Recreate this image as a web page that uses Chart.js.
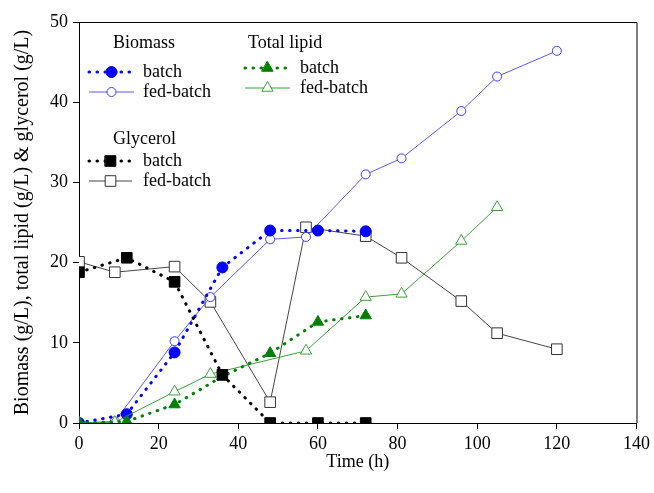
<!DOCTYPE html>
<html>
<head>
<meta charset="utf-8">
<script src="https://cdn.jsdelivr.net/npm/chart.js@4"></script>
<style>
  html, body { margin: 0; padding: 0; background: #fff; }
  #wrap { width: 654px; height: 493px; }
</style>
</head>
<body>
<div id="wrap"><canvas id="chart" width="654" height="493"></canvas></div>
<script>
// sampling times (h)
const batchTime = [0, 12, 24, 36, 48, 60, 72];
const fedTime = [0, 9, 24, 33, 48, 57, 72, 81, 96, 105, 120];
const fedLipidTime = [0, 9, 24, 33, 57, 72, 81, 96, 105];

// values (g/L)
const biomassBatch = [0, 1.1, 8.8, 19.4, 24.0, 24.0, 23.9];
const biomassFed = [0, 0.2, 10.2, 15.7, 22.9, 23.2, 31.0, 33.0, 38.9, 43.2, 46.4];
const lipidBatch = [0, 0.2, 2.3, 5.8, 8.7, 12.6, 13.4];
const lipidFed = [0, 0.1, 3.9, 6.1, 9.0, 15.7, 16.1, 22.7, 26.9];
const glycerolBatch = [18.8, 20.6, 17.6, 6.0, 0, 0, 0];
const glycerolFed = [20.1, 18.8, 19.5, 15.1, 2.6, 24.4, 23.3, 20.6, 15.2, 11.2, 9.2];

const xTicks = [0, 20, 40, 60, 80, 100, 120, 140];
const yTicks = [0, 10, 20, 30, 40, 50];

const FONT = "'Liberation Serif', 'Times New Roman', serif";

function pts(xs, ys) {
  return xs.map((x, i) => ({ x: x, y: ys[i] }));
}

const dotted = [0.5, 7.5];

const datasets = [
  {
    label: "Glycerol batch", data: pts(batchTime, glycerolBatch),
    borderColor: "#000", backgroundColor: "#000", borderWidth: 3,
    borderDash: dotted, borderCapStyle: "round",
    pointStyle: "rect", pointRadius: 7.5, pointBorderWidth: 1,
    pointBackgroundColor: "#000", pointBorderColor: "#000"
  },
  {
    label: "Total lipid batch", data: pts(batchTime, lipidBatch),
    borderColor: "#008000", backgroundColor: "#008000", borderWidth: 3,
    borderDash: dotted, borderCapStyle: "round",
    pointStyle: "triangle", pointRadius: 6.5, pointBorderWidth: 1,
    pointBackgroundColor: "#008000", pointBorderColor: "#008000"
  },
  {
    label: "Total lipid fed-batch", data: pts(fedLipidTime, lipidFed),
    borderColor: "#3ca03c", backgroundColor: "#fff", borderWidth: 1,
    pointStyle: "triangle", pointRadius: 6.5, pointBorderWidth: 1,
    pointBackgroundColor: "#fff", pointBorderColor: "#3ca03c"
  },
  {
    label: "Biomass batch", data: pts(batchTime, biomassBatch),
    borderColor: "#0000ff", backgroundColor: "#0000ff", borderWidth: 3,
    borderDash: dotted, borderCapStyle: "round",
    pointStyle: "circle", pointRadius: 5.5, pointBorderWidth: 1,
    pointBackgroundColor: "#0000ff", pointBorderColor: "#0000ff"
  },
  {
    label: "Biomass fed-batch", data: pts(fedTime, biomassFed),
    borderColor: "#5a5aff", backgroundColor: "#fff", borderWidth: 1,
    pointStyle: "circle", pointRadius: 4.5, pointBorderWidth: 1,
    pointBackgroundColor: "#fff", pointBorderColor: "#3c3cff"
  },
  {
    label: "Glycerol fed-batch", data: pts(fedTime, glycerolFed),
    borderColor: "#444", backgroundColor: "#fff", borderWidth: 1,
    pointStyle: "rect", pointRadius: 7.5, pointBorderWidth: 1,
    pointBackgroundColor: "#fff", pointBorderColor: "#333"
  }
];

// custom grouped legend + box around plot
const legendGroups = [
  { title: "Biomass", x: 113, y: 43, items: [[3, 72], [4, 92]], lx0: 89, lx1: 134, tx: 143 },
  { title: "Total lipid", x: 248, y: 43, items: [[1, 68], [2, 88]], lx0: 245, lx1: 290, tx: 300 },
  { title: "Glycerol", x: 113, y: 139, items: [[0, 161], [5, 181]], lx0: 89, lx1: 132, tx: 143 }
];

const extras = {
  id: "extras",
  afterDraw(chart) {
    const ctx = chart.ctx;
    const a = chart.chartArea;
    ctx.save();
    ctx.strokeStyle = "#000";
    ctx.lineWidth = 1;
    ctx.beginPath();
    ctx.moveTo(a.left, a.top + 0.5);
    ctx.lineTo(a.right + 0.5, a.top + 0.5);
    ctx.lineTo(a.right + 0.5, a.bottom);
    ctx.stroke();

    ctx.font = "18px " + FONT;
    ctx.textBaseline = "middle";
    ctx.fillStyle = "#000";
    legendGroups.forEach(g => {
      ctx.fillStyle = "#000";
      ctx.textAlign = "left";
      ctx.fillText(g.title, g.x, g.y);
      g.items.forEach(([idx, y]) => {
        const ds = datasets[idx];
        ctx.save();
        ctx.strokeStyle = ds.borderColor;
        ctx.lineWidth = ds.borderWidth;
        ctx.setLineDash(ds.borderDash || []);
        ctx.lineCap = ds.borderCapStyle || "butt";
        ctx.beginPath();
        ctx.moveTo(g.lx0, y);
        ctx.lineTo(g.lx1, y);
        ctx.stroke();
        ctx.setLineDash([]);
        ctx.fillStyle = ds.pointBackgroundColor;
        ctx.strokeStyle = ds.pointBorderColor;
        ctx.lineWidth = ds.pointBorderWidth;
        Chart.helpers.drawPoint(ctx, {
          pointStyle: ds.pointStyle, radius: ds.pointRadius, rotation: 0,
          borderWidth: ds.pointBorderWidth
        }, (g.lx0 + g.lx1) / 2, y);
        ctx.restore();
        ctx.fillStyle = "#000";
        ctx.fillText(idx === 0 || idx === 1 || idx === 3 ? "batch" : "fed-batch", g.tx, y);
      });
    });
    ctx.restore();
  }
};

new Chart(document.getElementById("chart"), {
  type: "line",
  data: { datasets: datasets },
  options: {
    responsive: false,
    animation: false,
    layout: { padding: { top: 22, right: 15, bottom: 20, left: 0 } },
    plugins: { legend: { display: false }, tooltip: { enabled: false } },
    scales: {
      x: {
        type: "linear", min: 0, max: 140,
        afterBuildTicks: s => { s.ticks = xTicks.map(v => ({ value: v })); },
        afterFit: s => { s.height = 50; },
        grid: { display: true, drawOnChartArea: false, drawTicks: true, tickLength: 6, color: "#000" },
        border: { display: true, color: "#000", width: 1 },
        ticks: { color: "#000", font: { family: FONT, size: 18 }, padding: 4, maxRotation: 0 },
        title: { display: true, text: "Time (h)", color: "#000", font: { family: FONT, size: 18 }, padding: { top: 4, bottom: 0 } }
      },
      y: {
        type: "linear", min: 0, max: 50,
        afterBuildTicks: s => { s.ticks = yTicks.map(v => ({ value: v })); },
        afterFit: s => { s.width = 79; },
        grid: { display: true, drawOnChartArea: false, drawTicks: true, tickLength: 6, color: "#000" },
        border: { display: true, color: "#000", width: 1 },
        ticks: { color: "#000", font: { family: FONT, size: 18 }, padding: 5 },
        title: { display: true, text: "Biomass (g/L), total lipid (g/L) & glycerol (g/L)", color: "#000", font: { family: FONT, size: 20 }, padding: { top: 11, bottom: 0 } }
      }
    }
  },
  plugins: [extras]
});
</script>
</body>
</html>
